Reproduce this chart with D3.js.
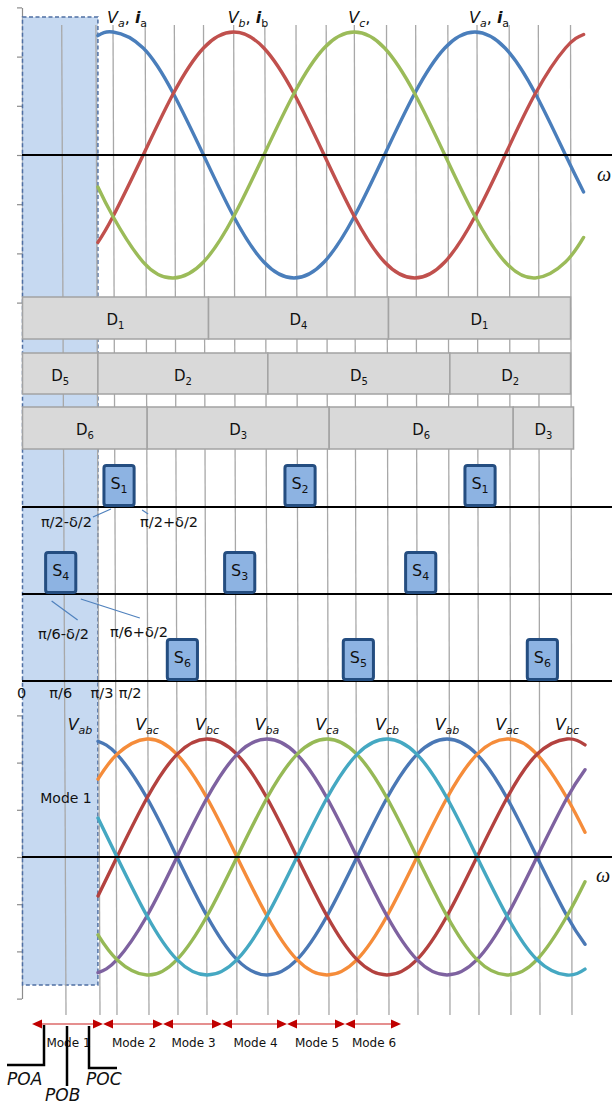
<!DOCTYPE html>
<html><head><meta charset="utf-8">
<script src="https://cdn.jsdelivr.net/npm/d3@7"></script>
<style>
html,body{margin:0;padding:0;background:#fff;}
svg{display:block;font-family:"DejaVu Sans",Verdana,sans-serif;}
</style></head><body>
<svg id="chart" width="612" height="1106"></svg>
<script>
// ---- phase voltages (per unit), sampled at these angles in degrees ----
const phaseAngles = [75, 90, 120, 150, 180, 210, 240, 270, 300, 330, 360, 390, 420, 450, 480, 510, 540, 558];
const va = [0.97, 1, 0.87, 0.5, 0, -0.5, -0.87, -1, -0.87, -0.5, 0, 0.5, 0.87, 1, 0.87, 0.5, 0, -0.3];
const vb = [-0.71, -0.5, 0, 0.5, 0.87, 1, 0.87, 0.5, 0, -0.5, -0.87, -1, -0.87, -0.5, 0, 0.5, 0.87, 0.98];
const vc = [-0.26, -0.5, -0.87, -1, -0.87, -0.5, 0, 0.5, 0.87, 1, 0.87, 0.5, 0, -0.5, -0.87, -1, -0.87, -0.67];
const phaseNames = ["a", "b", "c"];
const phasePeaks = [90, 210, 330, 450];
const phasePeakNames = ["a", "b", "c", "a"];

// ---- line-to-line voltages (per unit) ----
const lineAngles = [71, 90, 120, 150, 180, 210, 240, 270, 300, 330, 360, 390, 420, 450, 480, 510, 540, 558];
const vab = [0.98, 0.87, 0.5, 0, -0.5, -0.87, -1, -0.87, -0.5, 0, 0.5, 0.87, 1, 0.87, 0.5, 0, -0.5, -0.74];
const vac = [0.66, 0.87, 1, 0.87, 0.5, 0, -0.5, -0.87, -1, -0.87, -0.5, 0, 0.5, 0.87, 1, 0.87, 0.5, 0.21];
const vbc = [-0.33, 0, 0.5, 0.87, 1, 0.87, 0.5, 0, -0.5, -0.87, -1, -0.87, -0.5, 0, 0.5, 0.87, 1, 0.95];
const vba = [-0.98, -0.87, -0.5, 0, 0.5, 0.87, 1, 0.87, 0.5, 0, -0.5, -0.87, -1, -0.87, -0.5, 0, 0.5, 0.74];
const vca = [-0.66, -0.87, -1, -0.87, -0.5, 0, 0.5, 0.87, 1, 0.87, 0.5, 0, -0.5, -0.87, -1, -0.87, -0.5, -0.21];
const vcb = [0.33, 0, -0.5, -0.87, -1, -0.87, -0.5, 0, 0.5, 0.87, 1, 0.87, 0.5, 0, -0.5, -0.87, -1, -0.95];
const lineNames = ["ab", "ac", "bc", "ba", "ca", "cb"];
const linePeaks = [60, 120, 180, 240, 300, 360, 420, 480, 540];
const linePeakNames = ["ab", "ac", "bc", "ba", "ca", "cb", "ab", "ac", "bc"];

// ---- diode conduction intervals (degrees) ----
const diodeEdges = [[0, 185, 364, 545], [0, 75, 244, 425, 545], [0, 124, 305, 488, 548]];
const diodeNames = [["1", "4", "1"], ["5", "2", "5", "2"], ["6", "3", "6", "3"]];

// ---- switch firing pulses: centre angle (degrees) and pulse width ----
const switchCentres = [[96, 276, 455], [38, 216, 396], [159, 334, 517]];
const switchNames = [["1", "2", "1"], ["4", "3", "4"], ["6", "5", "6"]];
const pulseWidth = 30;

// ---- reference grid, angle labels and operating modes ----
const gridAngles = [39, 73, 90, 122, 151, 180, 210, 241, 272, 302, 330, 362, 391, 423, 452, 484, 513, 545];
const angleTickAngles = [-1, 38, 79, 107];
const angleTickLabels = ["0", "π/6", "π/3", "π/2"];
const axisTicks = [-1.2, -0.8, -0.4, 0, 0.4, 0.8, 1.2];
const modeEdges = [5, 76, 136, 195, 260, 318, 374];
const modeLabels = ["Mode 1", "Mode 2", "Mode 3", "Mode 4", "Mode 5", "Mode 6"];

const phaseColors = {a: "#4a7ebb", b: "#c0504d", c: "#9bbb59"};
const lineColors = {ab: "#4a78b5", ac: "#f58c3a", bc: "#b3423f", ba: "#7e62a0", ca: "#96b956", cb: "#45a8c2"};

const svg = d3.select("#chart");

// scales
const xTop = d3.scaleLinear().domain([90, 450]).range([113, 475]);
const xLow = d3.scaleLinear().domain([120, 540]).range([147, 567]);
const yTop = d3.scaleLinear().domain([-1, 1]).range([278, 32]);
const yLow = d3.scaleLinear().domain([-1, 1]).range([975, 739]);

// left value axes
function leftAxis(scale) {
  const s = scale.copy().domain([-1.2, 1.2]).range([scale(-1.2), scale(1.2)]);
  const g = svg.append("g").attr("transform", "translate(22,0)")
    .call(d3.axisLeft(s).tickValues(axisTicks).tickFormat("").tickSize(5).tickSizeOuter(0));
  g.selectAll("path,line").attr("stroke", "#8c8c8c").attr("stroke-width", 1.2);
}
leftAxis(yTop);
leftAxis(yLow);

// Mode 1 shaded interval
const shadeX0 = xTop(0), shadeX1 = xTop(75);
svg.append("rect")
  .attr("x", shadeX0).attr("y", 17)
  .attr("width", shadeX1 - shadeX0).attr("height", 985 - 17)
  .attr("fill", "#c6d9f1").attr("stroke", "#4f6fa3")
  .attr("stroke-width", 1.5).attr("stroke-dasharray", "4,2.5");

// vertical reference lines (slightly leaning, as drawn)
svg.append("g").selectAll("line").data(gridAngles).join("line")
  .attr("x1", d => xTop(d)).attr("y1", 25)
  .attr("x2", d => xLow(d)).attr("y2", 1015)
  .attr("stroke", "#a8a8a8").attr("stroke-width", 1.3);

// phase voltage waveforms
const topLine = d3.line().x(d => xTop(d[0])).y(d => yTop(d[1])).curve(d3.curveNatural);
[va, vb, vc].forEach((s, i) => {
  svg.append("path")
    .attr("d", topLine(phaseAngles.map((a, k) => [a, s[k]])))
    .attr("fill", "none").attr("stroke", phaseColors[phaseNames[i]])
    .attr("stroke-width", 3.4).attr("stroke-linecap", "round");
});
svg.append("line").attr("x1", 22).attr("x2", 612)
  .attr("y1", yTop(0)).attr("y2", yTop(0)).attr("stroke", "#000").attr("stroke-width", 2);

// diode conduction bars
const diodeRowY = [297, 353, 407];
const diodeRowH = [42, 41, 42];
diodeEdges.forEach((edges, r) => {
  const segs = diodeNames[r].map((n, k) => ({n, a0: edges[k], a1: edges[k + 1]}));
  const g = svg.append("g");
  g.selectAll("rect").data(segs).join("rect")
    .attr("x", d => xTop(d.a0)).attr("y", diodeRowY[r])
    .attr("width", d => xTop(d.a1) - xTop(d.a0)).attr("height", diodeRowH[r])
    .attr("fill", "#d9d9d9").attr("stroke", "#a3a3a3").attr("stroke-width", 1.5);
  const t = g.selectAll("text").data(segs).join("text")
    .attr("x", d => (xTop(d.a0) + xTop(d.a1)) / 2)
    .attr("y", diodeRowY[r] + diodeRowH[r] / 2 + 7)
    .attr("text-anchor", "middle").attr("font-size", 15).attr("fill", "#111");
  t.append("tspan").text("D");
  t.append("tspan").attr("font-size", 10).attr("dy", 4).text(d => d.n);
});

// switch pulse rows
const switchBaseY = [507, 594, 681];
switchBaseY.forEach(y => {
  svg.append("line").attr("x1", 22).attr("x2", 612).attr("y1", y).attr("y2", y)
    .attr("stroke", "#000").attr("stroke-width", 2);
});
switchCentres.forEach((centres, r) => {
  const y0 = switchBaseY[r];
  const data = centres.map((c, k) => ({c, n: switchNames[r][k]}));
  const g = svg.append("g");
  g.selectAll("rect").data(data).join("rect")
    .attr("x", d => xTop(d.c - pulseWidth / 2)).attr("y", y0 - 41.5)
    .attr("width", d => xTop(d.c + pulseWidth / 2) - xTop(d.c - pulseWidth / 2))
    .attr("height", 40).attr("rx", 2.5)
    .attr("fill", "#8db3e2").attr("stroke", "#244d80").attr("stroke-width", 3);
  const t = g.selectAll("text").data(data).join("text")
    .attr("x", d => xTop(d.c)).attr("y", y0 - 18)
    .attr("text-anchor", "middle").attr("font-size", 16).attr("fill", "#111");
  t.append("tspan").text("S");
  t.append("tspan").attr("font-size", 11).attr("dy", 4).text(d => d.n);
});

// pulse edge annotations
function pulseNote(x1, y1, x2, y2, tx, ty, label, anchor) {
  svg.append("line").attr("x1", x1).attr("y1", y1).attr("x2", x2).attr("y2", y2)
    .attr("stroke", "#4f81bd").attr("stroke-width", 1.2);
  svg.append("text").attr("x", tx).attr("y", ty).attr("text-anchor", anchor)
    .attr("font-size", 14.5).attr("fill", "#111").text(label);
}
const s1L = xTop(switchCentres[0][0] - pulseWidth / 2), s1R = xTop(switchCentres[0][0] + pulseWidth / 2);
const s4L = xTop(switchCentres[1][0] - pulseWidth / 2), s4R = xTop(switchCentres[1][0] + pulseWidth / 2);
pulseNote(s1L + 7, 509, s1L - 11, 517, s1L - 12, 527, "π/2-δ/2", "end");
pulseNote(s1R + 8, 510, s1R + 14, 514, s1R + 6, 527, "π/2+δ/2", "start");
pulseNote(s4L + 6, 601, s4L + 32, 620, 38, 639, "π/6-δ/2", "start");
pulseNote(s4R + 5, 599, s4R + 64, 618, 110, 637, "π/6+δ/2", "start");

// angle labels
svg.append("g").selectAll("text").data(angleTickLabels).join("text")
  .attr("x", (d, i) => xTop(angleTickAngles[i])).attr("y", 698)
  .attr("text-anchor", "middle").attr("font-size", 14.5).attr("fill", "#111").text(d => d);

// line-to-line voltage waveforms
const lowLine = d3.line().x(d => xLow(d[0])).y(d => yLow(d[1])).curve(d3.curveNatural);
[vab, vac, vbc, vba, vca, vcb].forEach((s, i) => {
  svg.append("path")
    .attr("d", lowLine(lineAngles.map((a, k) => [a, s[k]])))
    .attr("fill", "none").attr("stroke", lineColors[lineNames[i]])
    .attr("stroke-width", 3.4).attr("stroke-linecap", "round");
});
svg.append("line").attr("x1", 22).attr("x2", 612)
  .attr("y1", yLow(0)).attr("y2", yLow(0)).attr("stroke", "#000").attr("stroke-width", 2);

// waveform name labels
const phaseLab = svg.append("g").selectAll("text").data(phasePeakNames).join("text")
  .attr("x", (d, i) => xTop(phasePeaks[i]) - 6).attr("y", 23)
  .attr("font-size", 16).attr("fill", "#111");
phaseLab.append("tspan").attr("font-style", "italic").text("V");
phaseLab.append("tspan").attr("font-style", "italic").attr("font-size", 11).attr("dy", 4).text(d => d);
phaseLab.append("tspan").attr("dy", -4).text((d, i) => i === 2 ? "," : ", ");
phaseLab.filter((d, i) => i !== 2).append("tspan").attr("font-style", "italic").attr("font-weight", "bold").text("i");
phaseLab.filter((d, i) => i !== 2).append("tspan").attr("font-size", 11).attr("dy", 4).text(d => d);

const lineLab = svg.append("g").selectAll("text").data(linePeakNames).join("text")
  .attr("x", (d, i) => xLow(linePeaks[i]) - (linePeaks[i] < 75 ? 7 : 0)).attr("y", 730)
  .attr("text-anchor", "middle").attr("font-size", 16).attr("font-style", "italic").attr("fill", "#111");
lineLab.append("tspan").text("V");
lineLab.append("tspan").attr("font-size", 11).attr("dy", 4).text(d => d);

svg.append("text").attr("x", 66).attr("y", 803).attr("text-anchor", "middle")
  .attr("font-size", 14).attr("fill", "#111").text("Mode 1");

// ωt axis markers
[[597, 181], [596, 882]].forEach(p => {
  svg.append("text").attr("x", p[0]).attr("y", p[1])
    .attr("font-family", "'Liberation Serif','Times New Roman',serif")
    .attr("font-style", "italic").attr("font-size", 20).attr("fill", "#111").text("ω");
});

// operating mode intervals
const arrowY = 1024;
const modes = modeLabels.map((m, i) => ({m, x0: xLow(modeEdges[i]), x1: xLow(modeEdges[i + 1])}));
const mg = svg.append("g");
mg.selectAll("line").data(modes).join("line")
  .attr("x1", d => d.x0 + 8).attr("x2", d => d.x1 - 8)
  .attr("y1", arrowY).attr("y2", arrowY)
  .attr("stroke", "#dc6a6a").attr("stroke-width", 1.6);
mg.selectAll("path.l").data(modes).join("path").attr("class", "l")
  .attr("d", d => `M${d.x0},${arrowY}L${d.x0 + 10},${arrowY - 4.5}L${d.x0 + 10},${arrowY + 4.5}Z`)
  .attr("fill", "#c00000");
mg.selectAll("path.r").data(modes).join("path").attr("class", "r")
  .attr("d", d => `M${d.x1},${arrowY}L${d.x1 - 10},${arrowY - 4.5}L${d.x1 - 10},${arrowY + 4.5}Z`)
  .attr("fill", "#c00000");
mg.selectAll("text").data(modes).join("text")
  .attr("x", d => (d.x0 + d.x1) / 2 + 1).attr("y", 1047)
  .attr("text-anchor", "middle").attr("font-size", 12).attr("fill", "#111").text(d => d.m);

// pole output step markers
const poleG = svg.append("g").attr("fill", "none").attr("stroke", "#000").attr("stroke-width", 2.5);
poleG.append("path").attr("d", "M7,1065H44V1025");
poleG.append("path").attr("d", "M67,1026V1086");
poleG.append("path").attr("d", "M89,1026V1068H117");
[["POA", 7, 1085], ["POB", 45, 1101], ["POC", 86, 1085]].forEach(p => {
  svg.append("text").attr("x", p[1]).attr("y", p[2]).attr("font-size", 17)
    .attr("font-style", "italic").attr("fill", "#111").text(p[0]);
});
</script>
</body></html>
